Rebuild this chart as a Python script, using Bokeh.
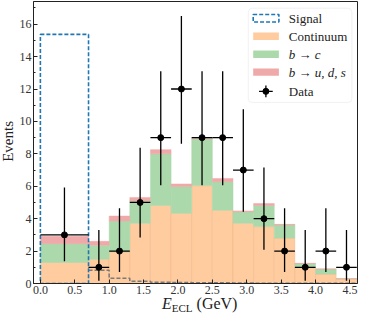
import numpy as np
from bokeh.plotting import figure
from bokeh.models import Range1d, FixedTicker, Label, BoxAnnotation, ColumnDataSource, Div
from bokeh.layouts import column, row
from bokeh.embed import file_html
from bokeh.resources import INLINE

# ---- data ----
bin_edges = [0.0, 0.7, 1.0, 1.3, 1.6, 1.9, 2.2, 2.5, 2.8, 3.1, 3.4, 3.7, 4.0, 4.3, 4.6]
continuum = [1.30, 1.50, 1.96, 3.72, 4.82, 4.33, 6.04, 4.52, 3.72, 3.51, 2.80, 0.99, 0.58, 0.28]
b_to_c = [1.16, 0.86, 1.89, 1.37, 3.18, 1.65, 2.89, 1.76, 0.70, 1.31, 0.81, 0.24, 0.31, 0.02]
b_to_uds = [0.45, 0.24, 0.31, 0.22, 0.26, 0.16, 0.07, 0.20, 0.06, 0.11, 0.04, 0.02, 0.01, 0.00]
data_counts = [3, 1, 2, 5, 9, 12, 9, 9, 7, 4, 2, 1, 2, 1]
data_lo = [1.37, 0.17, 0.71, 2.84, 6.06, 8.62, 6.06, 6.06, 4.42, 2.09, 0.71, 0.17, 0.71, 0.17]
data_hi = [5.92, 3.30, 4.64, 8.38, 13.1, 16.5, 13.1, 13.1, 10.75, 7.16, 4.64, 3.30, 4.64, 3.30]
signal_edges = [0.0, 0.7]
signal_height = [15.37]
gray_edges = [0.7, 1.0, 1.3, 1.6, 1.9, 2.2, 2.5, 2.8, 3.1, 3.4, 3.7, 4.0, 4.3, 4.6]
gray_values = [0.82, 0.32, 0.14, 0.08, 0.06, 0.05, 0.04, 0.03, 0.02, 0.02, 0.01, 0.01, 0.01]
x_ticks = [0.0, 0.5, 1.0, 1.5, 2.0, 2.5, 3.0, 3.5, 4.0, 4.5]
x_tick_labels = ["0.0", "0.5", "1.0", "1.5", "2.0", "2.5", "3.0", "3.5", "4.0", "4.5"]
y_ticks = [0, 2, 4, 6, 8, 10, 12, 14, 16]
y_minor_ticks = [1, 3, 5, 7, 9, 11, 13, 15, 17]
legend_labels = ["Signal", "Continuum", "b \u2192 c", "b \u2192 u, d, s", "Data"]
y_title = "Events"

FONT = "Liberation Serif"
C_ORANGE = "#ffcc9f"
C_GREEN = "#abd9ab"
C_RED = "#efa9a9"
C_BLUE = "#1f77b4"

X0, X1 = -0.1, 4.61
Y0, Y1 = 0.0, 17.4

p = figure(width=342, height=298, output_backend="svg", toolbar_location=None,
           x_range=Range1d(X0, X1), y_range=Range1d(Y0, Y1),
           min_border_left=13, min_border_right=1, min_border_top=1, min_border_bottom=15)
p.background_fill_color = "white"
p.border_fill_color = "white"
p.outline_line_color = "#222222"
p.outline_line_width = 1
p.xgrid.visible = False
p.ygrid.visible = False

left = np.array(bin_edges[:-1])
right = np.array(bin_edges[1:])
c = np.array(continuum)
g = np.array(b_to_c)
r = np.array(b_to_uds)

p.quad(left=left, right=right, bottom=0, top=c, fill_color=C_ORANGE,
       line_color="#e8a070", line_alpha=0.25, line_width=1)
p.quad(left=left, right=right, bottom=c, top=c + g, fill_color=C_GREEN,
       line_color=C_GREEN, line_alpha=1, line_width=0.5)
p.quad(left=left, right=right, bottom=c + g, top=c + g + r, fill_color=C_RED,
       line_color=C_RED, line_alpha=1, line_width=0.5)

# gray dashed step
gx, gy = [], []
for i, v in enumerate(gray_values):
    gx += [gray_edges[i], gray_edges[i + 1]]
    gy += [v, v]
p.line(gx, gy, line_color="#7a7a7a", line_dash="4 2", line_width=1.5)

# signal box
p.quad(left=[signal_edges[0]], right=[signal_edges[1]], bottom=[0], top=signal_height,
       fill_color=None, line_color=C_BLUE, line_dash="4 2", line_width=1.6)

# data points
xc = (left + right) / 2
src = ColumnDataSource(dict(x=xc, y=data_counts, lo=data_lo, hi=data_hi, l=left, r=right))
p.segment(x0="x", y0="lo", x1="x", y1="hi", source=src, line_color="black", line_width=1.3)
p.segment(x0="l", y0="y", x1="r", y1="y", source=src, line_color="black", line_width=1.3)
p.scatter(x="x", y="y", source=src, size=6, fill_color="black", line_color="black")

# axes
for ax in (p.xaxis[0], p.yaxis[0]):
    ax.axis_line_color = "#222222"
    ax.major_tick_line_color = "#222222"
    ax.minor_tick_line_color = "#222222"
    ax.major_tick_in = 4
    ax.major_tick_out = 0
    ax.minor_tick_in = 2
    ax.minor_tick_out = 0
    ax.major_label_text_font = FONT
    ax.major_label_text_font_size = "12px"
    ax.major_label_text_color = "#333333"
    ax.major_label_standoff = 2
p.xaxis.ticker = FixedTicker(ticks=x_ticks, minor_ticks=[])
p.xaxis.major_label_overrides = {t: s for t, s in zip(x_ticks, x_tick_labels)}
p.yaxis.ticker = FixedTicker(ticks=y_ticks, minor_ticks=y_minor_ticks)

# legend (positions in data coordinates)
def rx(px):
    return (px - 43.2) / 70.4
def ry(py):
    return (291.3 - py) / 16.5

p.add_layout(BoxAnnotation(left=rx(256), right=rx(362), top=ry(11), bottom=ry(107),
                           fill_color="white", fill_alpha=0.9, line_color="#d0d0d0",
                           line_width=1, border_radius=4, level="underlay"))
rows = [21.3, 39.5, 57.8, 76.1, 95.7]
sw_l, sw_r = rx(261), rx(287.3)
hh = 3.8 / 16.5
p.quad(left=[sw_l], right=[sw_r], bottom=[ry(rows[0]) - hh], top=[ry(rows[0]) + hh],
       fill_color=None, line_color=C_BLUE, line_dash="4 2", line_width=1.6)
for ri, col in zip(rows[1:4], [C_ORANGE, C_GREEN, C_RED]):
    p.quad(left=[sw_l], right=[sw_r], bottom=[ry(ri) - hh], top=[ry(ri) + hh],
           fill_color=col, line_color=None)
mx = rx(274)
p.segment(x0=[mx, rx(267)], y0=[ry(89.8), ry(rows[4])], x1=[mx, rx(281)], y1=[ry(101.6), ry(rows[4])],
          line_color="black", line_width=1.3)
p.scatter(x=[mx], y=[ry(rows[4])], size=6, fill_color="black", line_color="black")
for ri, lab in zip(rows, legend_labels):
    italic = "\u2192" in lab
    p.add_layout(Label(x=rx(297.5), y=ry(ri), text=lab, text_font=FONT,
                       text_font_style="italic" if italic else "normal",
                       text_font_size="13px", text_baseline="middle", text_color="#222222"))

ylabel = Div(
    text=('<div style="width:16px; height:282px; display:flex; align-items:center; '
          'justify-content:center; overflow:visible;">'
          '<span style="writing-mode:vertical-rl; transform:rotate(180deg); '
          'font-family:\'Liberation Serif\'; font-size:15px; line-height:16px; color:#222; '
          'white-space:nowrap;">' + y_title + '</span></div>'),
    width=16, height=298, margin=(0, 0, 0, 0))

xlabel = Div(
    text=('<div style="position:relative; top:-2px; padding-left:146px; '
          'font-family:\'Liberation Serif\'; font-size:16px; line-height:16px; color:#222; '
          'white-space:nowrap;"><i>E</i><sub style="font-size:11px; vertical-align:-3px;">ECL</sub>'
          ' (GeV)</div>'),
    width=342, height=16, margin=(0, 0, 0, 0))

layout = row(ylabel, column(p, xlabel, spacing=0), spacing=0)
open("out.html", "w").write(file_html(layout, INLINE))
